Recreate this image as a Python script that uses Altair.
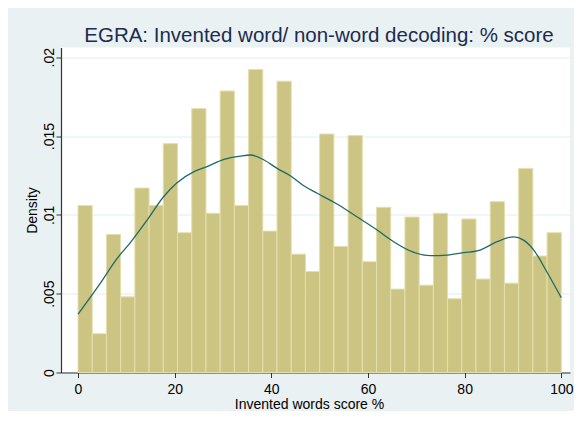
import altair as alt
import pandas as pd

# Histogram bar heights (density), 34 equal bins over 0..100
bar_heights = [0.0106, 0.00246, 0.00876, 0.0048, 0.0117, 0.0106, 0.01452, 0.00887,
               0.01674, 0.0101, 0.01786, 0.0106, 0.01922, 0.00897, 0.01848, 0.00751,
               0.00641, 0.01513, 0.0080, 0.01503, 0.00703, 0.01048, 0.00529, 0.00986,
               0.00554, 0.0101, 0.00468, 0.00974, 0.00593, 0.01084, 0.00567, 0.01295,
               0.00739, 0.00887]

# Kernel density curve
kd_x = [0, 4.6, 8.1, 10.8, 14.3, 17.7, 20.5, 24, 26.7, 30.2, 33.6, 35.7, 38.5, 41.2,
        44, 46.8, 49.5, 53.6, 57.7, 61.9, 65.3, 69.5, 72.9, 76.4, 79.8, 83.2, 86.7,
        90.1, 92.2, 94.3, 97.0, 100]
kd_y = [0.0037, 0.00565, 0.00724, 0.00823, 0.00967, 0.01115, 0.01204, 0.01274, 0.01306,
        0.01352, 0.01373, 0.0138, 0.01348, 0.01295, 0.01247, 0.01183, 0.01137, 0.01069,
        0.00988, 0.00904, 0.0083, 0.00762, 0.00741, 0.00745, 0.0076, 0.00777, 0.0083,
        0.00861, 0.0084, 0.00777, 0.00639, 0.00474]

x_ticks = [0, 20, 40, 60, 80, 100]
y_ticks = [0, 0.005, 0.01, 0.015, 0.02]

title_text = "EGRA: Invented word/ non-word decoding: % score"
x_title = "Invented words score %"
y_title = "Density"

n = len(bar_heights)
bw = 100 / n
bars = pd.DataFrame({
    "start": [i * bw for i in range(n)],
    "end": [(i + 1) * bw for i in range(n)],
    "density": bar_heights,
})
kd = pd.DataFrame({"x": kd_x, "y": kd_y})

FONT = "Liberation Sans"
x_scale = alt.Scale(domain=[-3.52, 101.8], nice=False, zero=False)
y_scale = alt.Scale(domain=[0, 0.02062], nice=False, zero=False)

x_axis = alt.Axis(values=x_ticks, title=x_title, grid=False, labelFontSize=14,
                  labelFont=FONT, labelColor="#000000", tickSize=5, tickColor="#333333",
                  domainColor="#333333", domainWidth=1.2, labelPadding=5,
                  titleFont=FONT, titleFontSize=14, titleFontWeight="normal",
                  titleColor="#000000", titleX=248, titleY=35.5,
                  titleBaseline="alphabetic", titleAlign="center")
y_axis = alt.Axis(values=y_ticks, title=y_title, grid=True, gridColor="#E3ECEF",
                  gridWidth=1, labelFontSize=14, labelFont=FONT, labelColor="#000000",
                  labelAngle=270, labelAlign="center", labelBaseline="alphabetic",
                  labelPadding=3, tickSize=5, tickColor="#333333",
                  domainColor="#333333", domainWidth=1.2,
                  labelExpr="replace(toString(datum.value), '0.', '.')",
                  titleFont=FONT, titleFontSize=14, titleFontWeight="normal",
                  titleColor="#000000", titleAngle=270, titleX=-24.6, titleY=162.5,
                  titleBaseline="alphabetic", titleAlign="center")

hist = alt.Chart(bars).mark_rect(fill="#CCC482", stroke="#E4DFAE", strokeWidth=1).encode(
    x=alt.X("start:Q", scale=x_scale, axis=x_axis),
    x2="end:Q",
    y=alt.Y("density:Q", scale=y_scale, axis=y_axis),
    y2=alt.datum(0),
)

line = alt.Chart(kd).mark_line(color="#1E6B64", strokeWidth=1.3, interpolate="monotone").encode(
    x=alt.X("x:Q", scale=x_scale),
    y=alt.Y("y:Q", scale=y_scale),
)

chart = alt.layer(hist, line).properties(
    width=509, height=325,
    padding={"left": 53, "top": 39.5, "right": 4, "bottom": 38.5},
    autosize=alt.AutoSizeParams(type="none"),
    background="#E9F1F3",
    title=alt.TitleParams(text=title_text, fontSize=20.5, font=FONT, color="#1C2B4F",
                          fontWeight="normal", anchor="middle", baseline="alphabetic",
                          offset=6.8, dx=3.5, dy=22),
).configure_view(fill="#FFFFFF", stroke=None)

chart.save("out.html", embed_options={"renderer": "svg", "actions": False})
